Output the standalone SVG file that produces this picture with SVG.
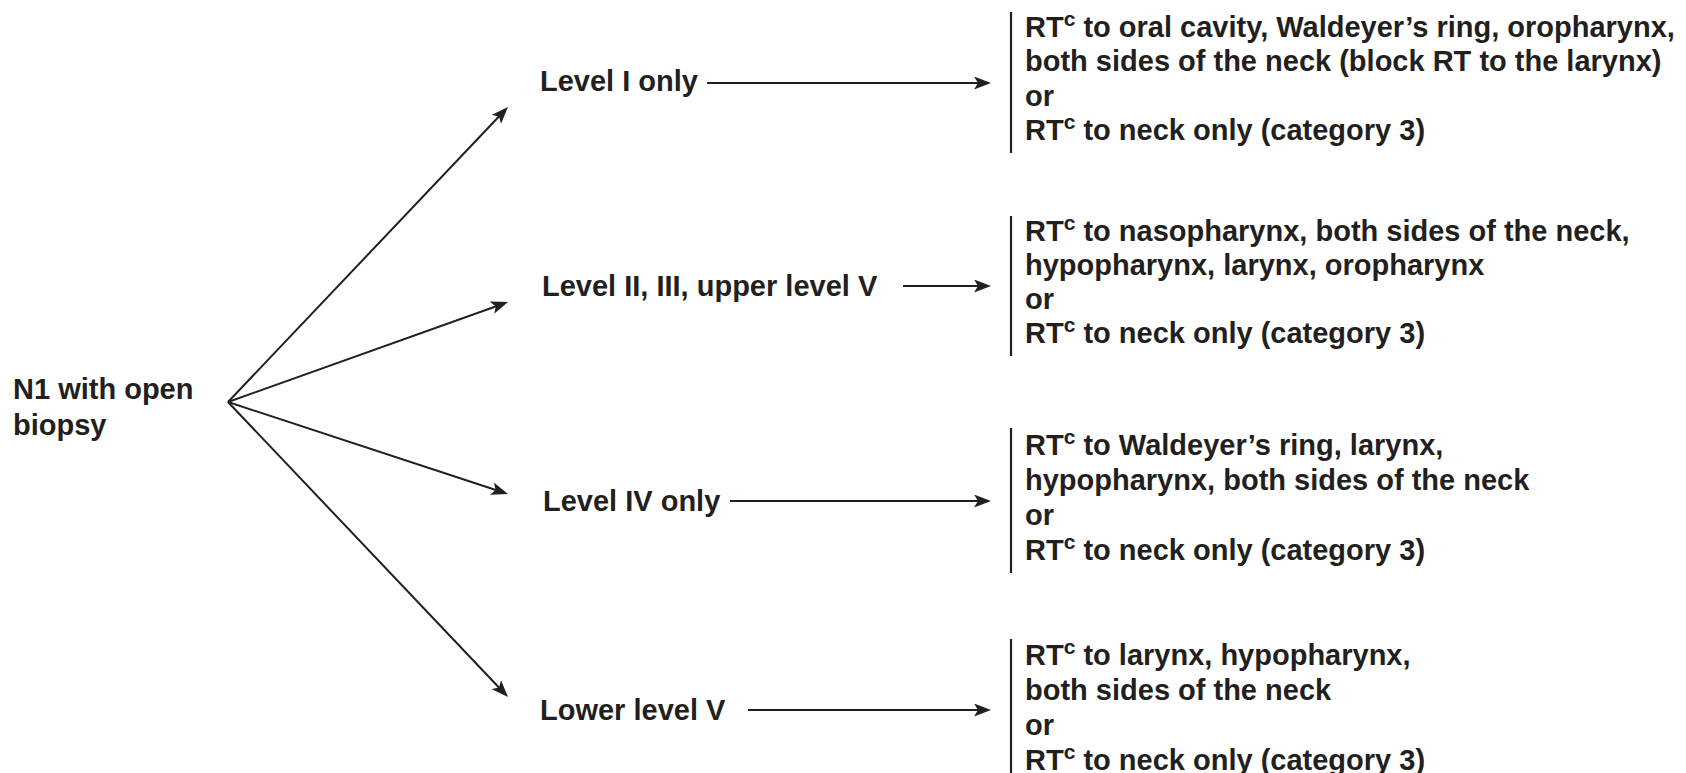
<svg xmlns="http://www.w3.org/2000/svg" width="1686" height="773" viewBox="0 0 1686 773">
<style>
text{font-family:"Liberation Sans",Arial,Helvetica,sans-serif;font-weight:bold;font-size:29px;fill:#231f20}
.sup{font-size:21px}
.c{stroke:#231f20;stroke-width:2;fill:none}
.bar{stroke:#231f20;stroke-width:2.2}
</style>
<defs>
<marker id="ah" viewBox="0 0 17 13" refX="9" refY="6.5" markerWidth="17" markerHeight="13" orient="auto" markerUnits="userSpaceOnUse">
<path d="M0,0 L17,6.5 L0,13 L4,6.5 z" fill="#231f20"/>
</marker>
</defs>
<rect width="1686" height="773" fill="#ffffff"/>
<g id="connectors">
<line class="c" x1="228" y1="402" x2="502.5" y2="112.8" marker-end="url(#ah)"/>
<line class="c" x1="228" y1="402" x2="500.5" y2="304.7" marker-end="url(#ah)"/>
<line class="c" x1="228" y1="402" x2="500.4" y2="491.5" marker-end="url(#ah)"/>
<line class="c" x1="228" y1="402" x2="502.5" y2="691.2" marker-end="url(#ah)"/>
<line class="c" x1="707" y1="83" x2="983" y2="83" marker-end="url(#ah)"/>
<line class="c" x1="903" y1="286" x2="983" y2="286" marker-end="url(#ah)"/>
<line class="c" x1="730" y1="501" x2="983" y2="501" marker-end="url(#ah)"/>
<line class="c" x1="748" y1="710" x2="983" y2="710" marker-end="url(#ah)"/>
</g>
<g id="n1">
<text x="13" y="399">N1 with open</text>
<text x="13" y="435">biopsy</text>
</g>
<g id="level1"><text x="540" y="91">Level I only</text></g>
<g id="level2"><text x="542" y="296">Level II, III, upper level V</text></g>
<g id="level4"><text x="543" y="511">Level IV only</text></g>
<g id="lowerV"><text x="540" y="720">Lower level V</text></g>
<g id="out1">
<line class="bar" x1="1011" y1="12" x2="1011" y2="153"/>
<text x="1025" y="37">RT<tspan class="sup" dy="-11">c</tspan><tspan dy="11"> to oral cavity, Waldeyer’s ring, oropharynx,</tspan></text>
<text x="1025" y="71">both sides of the neck (block RT to the larynx)</text>
<text x="1025" y="106">or</text>
<text x="1025" y="140">RT<tspan class="sup" dy="-11">c</tspan><tspan dy="11"> to neck only (category 3)</tspan></text>
</g>
<g id="out2">
<line class="bar" x1="1011" y1="216" x2="1011" y2="356"/>
<text x="1025" y="241">RT<tspan class="sup" dy="-11">c</tspan><tspan dy="11"> to nasopharynx, both sides of the neck,</tspan></text>
<text x="1025" y="275">hypopharynx, larynx, oropharynx</text>
<text x="1025" y="309">or</text>
<text x="1025" y="343">RT<tspan class="sup" dy="-11">c</tspan><tspan dy="11"> to neck only (category 3)</tspan></text>
</g>
<g id="out3">
<line class="bar" x1="1011" y1="428" x2="1011" y2="573"/>
<text x="1025" y="455">RT<tspan class="sup" dy="-11">c</tspan><tspan dy="11"> to Waldeyer’s ring, larynx,</tspan></text>
<text x="1025" y="490">hypopharynx, both sides of the neck</text>
<text x="1025" y="525">or</text>
<text x="1025" y="560">RT<tspan class="sup" dy="-11">c</tspan><tspan dy="11"> to neck only (category 3)</tspan></text>
</g>
<g id="out4">
<line class="bar" x1="1011" y1="639" x2="1011" y2="773"/>
<text x="1025" y="665">RT<tspan class="sup" dy="-11">c</tspan><tspan dy="11"> to larynx, hypopharynx,</tspan></text>
<text x="1025" y="700">both sides of the neck</text>
<text x="1025" y="735">or</text>
<text x="1025" y="770">RT<tspan class="sup" dy="-11">c</tspan><tspan dy="11"> to neck only (category 3)</tspan></text>
</g>
</svg>
